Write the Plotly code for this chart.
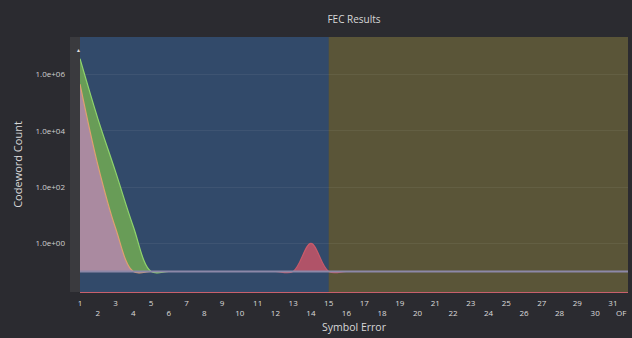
import plotly.graph_objects as go

# ---- data ----
symbol_errors = list(range(1, 32))
tick_labels = [str(i) for i in symbol_errors] + ["OF"]
BASE = 0.1  # baseline value used for zero counts

green_counts = [3.7e6, 2.8e4, 355, 4.0] + [BASE] * 27
pink_counts = [4.6e5, 630, 3.5] + [BASE] * 28
red_counts = [BASE] * 13 + [1.0] + [BASE] * 17

correctable_limit = 15
x_max = 31.85
of_pos = 31.47

y_tickvals = [1, 100, 1e4, 1e6]
y_ticktext = ["1.0e+00", "1.0e+02", "1.0e+04", "1.0e+06"]

fig = go.Figure()

baseline = [BASE] * len(symbol_errors)

def add_series(vals, line_color, fill_color, width=1.2):
    fig.add_trace(go.Scatter(x=symbol_errors, y=baseline, mode="lines",
                             line=dict(width=0, color="rgba(0,0,0,0)"),
                             hoverinfo="skip", showlegend=False))
    fig.add_trace(go.Scatter(x=symbol_errors, y=vals, mode="lines",
                             line=dict(color=line_color, width=width, shape="spline"),
                             fill="tonexty", fillcolor=fill_color, showlegend=False))

add_series(green_counts, "#8fd46c", "rgba(108,160,86,0.95)")
add_series(pink_counts, "#e0a070", "rgba(170,138,160,1)")
add_series(red_counts, "#c85a6a", "rgba(190,84,104,0.9)")

# baseline line
fig.add_trace(go.Scatter(x=[1, x_max], y=[BASE, BASE], mode="lines",
                         line=dict(color="#8c88a8", width=2),
                         hoverinfo="skip", showlegend=False))

x_tickvals = symbol_errors + [of_pos]
x_ticktext = [t if (i % 2 == 0) else "<br>" + t for i, t in enumerate(tick_labels)]
x_ticktext[-1] = "<br>OF"

shapes = [
    dict(type="rect", xref="x", yref="paper", x0=1, x1=correctable_limit, y0=0, y1=1,
         fillcolor="#324a6a", line=dict(width=0), layer="below"),
    dict(type="rect", xref="x", yref="paper", x0=correctable_limit, x1=x_max, y0=0, y1=1,
         fillcolor="#5a5538", line=dict(width=0), layer="below"),
    dict(type="rect", xref="paper", yref="paper", x0=-10 / 548, x1=0, y0=0, y1=1,
         fillcolor="#3a3a3e", line=dict(width=0), layer="below"),
]

fig.update_layout(
    width=632, height=338,
    margin=dict(l=80, r=4, t=37, b=46),
    paper_bgcolor="#2b2b30",
    plot_bgcolor="#324a6a",
    font=dict(family="Open Sans", color="#d0d0d0"),
    title=dict(text="FEC Results", x=0.5, xref="paper", xanchor="center",
               y=1 - 19 / 338, yanchor="middle", font=dict(size=10, color="#d8d8d8")),
    shapes=shapes,
    showlegend=False,
    annotations=[dict(text="▲", xref="paper", yref="paper", x=-6 / 548, y=1 - 8 / 255,
                      showarrow=False, font=dict(size=5, color="#e0e0e0"))],
)

fig.update_xaxes(
    range=[1, x_max], tickvals=x_tickvals, ticktext=x_ticktext, tickangle=0,
    tickfont=dict(size=8, color="#dcdcdc"), ticklabelstandoff=3,
    showgrid=False, zeroline=False, automargin=False,
    showline=True, linecolor="#c8606c", linewidth=1,
    title=dict(text="Symbol Error", font=dict(size=10.5, color="#d8d8d8"), standoff=6),
)
fig.update_yaxes(
    type="log", range=[-1.73, 7.34], tickvals=y_tickvals, ticktext=y_ticktext,
    tickfont=dict(size=8, color="#cfcfcf"), ticklabelstandoff=14,
    showgrid=True, gridcolor="rgba(255,255,255,0.06)", gridwidth=1, zeroline=False,
    automargin=False,
    title=dict(text="Codeword Count", font=dict(size=11, color="#d8d8d8"), standoff=10),
)

fig.write_html("out.html", config={"displayModeBar": False},
               post_script="document.body.style.margin='0';")
